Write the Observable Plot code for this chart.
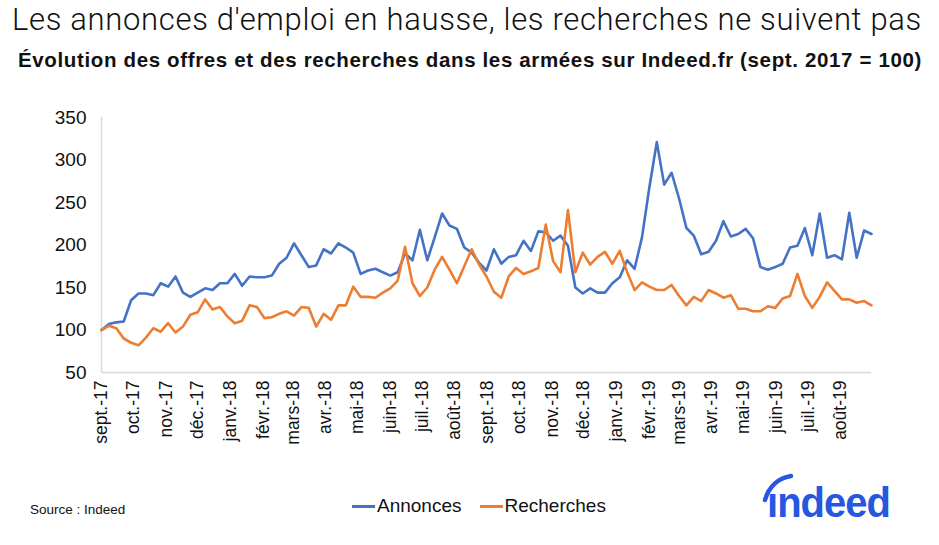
<!DOCTYPE html>
<html><head><meta charset="utf-8">
<script src="https://cdn.jsdelivr.net/npm/d3@7"></script>
<script src="https://cdn.jsdelivr.net/npm/@observablehq/plot@0.6"></script>
<style>
body{margin:0;background:#fff;width:939px;height:545px;position:relative;overflow:hidden;font-family:"Liberation Sans",Arial,sans-serif;color:#111;}
#title{position:absolute;top:0px;left:12px;font-family:Roboto,"Liberation Sans",sans-serif;font-weight:300;font-size:31px;line-height:40px;white-space:nowrap;}
#subtitle{position:absolute;top:47px;left:18px;font-weight:bold;font-size:20.5px;line-height:26px;white-space:nowrap;}
#chart{position:absolute;top:100px;left:0;}
#source{position:absolute;left:30px;top:502px;font-size:13.5px;}
#legend{position:absolute;left:352px;top:495px;font-size:19px;display:flex;align-items:center;white-space:nowrap;}
#legend .sw{display:inline-block;width:23px;height:3px;margin-right:2px;}
#logo{position:absolute;left:755px;top:468px;}
</style></head>
<body>
<div id="title">Les annonces d'emploi en hausse, les recherches ne suivent pas</div>
<div id="subtitle">Évolution des offres et des recherches dans les armées sur Indeed.fr (sept. 2017 = 100)</div>
<div id="chart"></div>
<div id="source">Source : Indeed</div>
<div id="legend"><span class="sw" style="background:#4472C4"></span><span>Annonces</span><span style="width:18px"></span><span class="sw" style="background:#ED7D31"></span><span>Recherches</span></div>
<svg id="logo" width="150" height="60">
  <path d="M10,32 C14,18 24,10 36,8" fill="none" stroke="#2557E0" stroke-width="4.5" stroke-linecap="round"/>
  <text x="12" y="49" font-family="Liberation Sans, Arial, sans-serif" font-weight="bold" font-size="42" fill="#2557E0" letter-spacing="-1" textLength="123" lengthAdjust="spacingAndGlyphs">ındeed</text>
</svg>
<script>
const startDate = "2017-09-01";
const annonces = [100,107,109,110,135,143,143,141,155,151,163,144,139,144,149,147,155,155,166,152,163,162,162,164,178,185,202,188,174,176,195,190,202,197,191,166,170,172,168,164,168,190,182,218,182,209,237,223,219,197,191,179,170,195,178,186,188,205,193,216,215,205,211,199,150,143,149,144,144,155,162,182,172,209,268,321,271,285,255,220,211,189,192,205,228,210,213,219,208,174,171,174,178,197,199,220,188,237,185,188,183,238,185,217,213];
const recherches = [100,105,102,90,85,82,91,102,98,108,97,104,118,121,136,124,127,116,108,111,129,127,114,115,119,122,117,127,126,104,119,112,129,129,151,139,139,138,144,149,158,198,155,140,150,171,186,171,155,175,195,177,163,145,138,163,173,166,169,173,224,181,168,241,168,191,177,186,192,178,193,168,147,156,151,147,147,153,140,129,139,134,147,143,138,141,125,125,122,122,128,126,137,140,166,140,126,139,156,146,136,136,132,134,129];
const yTicks = [50,100,150,200,250,300,350];
const monthLabels = ["sept.-17","oct.-17","nov.-17","déc.-17","janv.-18","févr.-18","mars-18","avr.-18","mai-18","juin-18","juil.-18","août-18","sept.-18","oct.-18","nov.-18","déc.-18","janv.-19","févr.-19","mars-19","avr.-19","mai-19","juin-19","juil.-19","août-19"];

function fitWidth(id, target) {
  const el = document.getElementById(id);
  const w = el.getBoundingClientRect().width;
  const n = el.textContent.length;
  el.style.letterSpacing = ((target - w) / n) + "px";
}
fitWidth("title", 910);
fitWidth("subtitle", 904);

const t0 = new Date(startDate + "T00:00:00Z");
const data = annonces.map((a, i) => ({date: d3.utcDay.offset(t0, 7 * i), annonces: a, recherches: recherches[i]}));
const tEnd = data[data.length - 1].date;
const tickDates = d3.utcMonth.range(new Date("2017-09-01T00:00:00Z"), new Date("2019-08-02T00:00:00Z"));
const labelMap = new Map(tickDates.map((d, i) => [+d, monthLabels[i]]));

const plot = Plot.plot({
  width: 939, height: 360,
  marginLeft: 101, marginRight: 68, marginTop: 17, marginBottom: 88,
  style: {fontFamily: "Liberation Sans, Arial, sans-serif", color: "#111", background: "transparent"},
  x: {type: "utc", domain: [t0, tEnd]},
  y: {domain: [50, 350]},
  marks: [
    Plot.ruleX([t0], {stroke: "#d9d9d9", strokeWidth: 1.5}),
    Plot.ruleY([50], {stroke: "#d9d9d9", strokeWidth: 1.5}),
    Plot.axisY({ticks: yTicks, tickSize: 0, tickPadding: 15, fontSize: 19, label: null}),
    Plot.axisX({ticks: tickDates, tickFormat: d => labelMap.get(+d), tickRotate: -90, tickSize: 0, tickPadding: 8, fontSize: 17.5, label: null}),
    Plot.line(data, {x: "date", y: "annonces", stroke: "#4472C4", strokeWidth: 2.6}),
    Plot.line(data, {x: "date", y: "recherches", stroke: "#ED7D31", strokeWidth: 2.6})
  ]
});
document.getElementById("chart").appendChild(plot);
</script>
</body></html>
